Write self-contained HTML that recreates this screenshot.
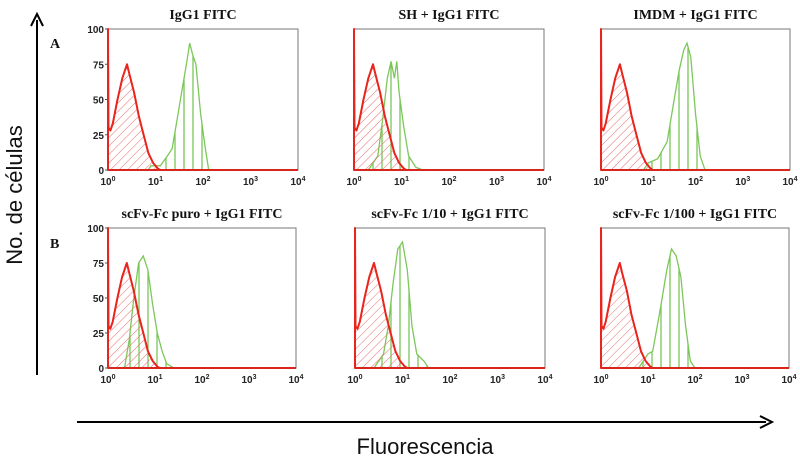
<!DOCTYPE html>
<html><head><meta charset="utf-8"><style>
body{margin:0;background:#fff;width:800px;height:463px;overflow:hidden}
svg{display:block}
.t{font-family:"Liberation Serif",serif;font-weight:bold;font-size:14px;fill:#111}
.k{font-family:"Liberation Sans",sans-serif;font-size:10px;fill:#222;font-weight:bold}
</style></head><body>
<svg id="fig" width="800" height="463" viewBox="0 0 800 463">
<defs>
<pattern id="hatchR" width="6" height="6" patternUnits="userSpaceOnUse" patternTransform="rotate(45)"><line x1="0" y1="0" x2="0" y2="6" stroke="#e87070" stroke-width="1"/></pattern>
<pattern id="hatchG" width="9" height="9" patternUnits="userSpaceOnUse"><line x1="4" y1="0" x2="4" y2="9" stroke="#6cc04a" stroke-width="1.2"/></pattern>
</defs>
<line x1="37" y1="375" x2="37" y2="20" stroke="#000" stroke-width="2"/>
<path d="M31 26 L37 14 L43 26" fill="none" stroke="#000" stroke-width="2"/>
<line x1="77" y1="422" x2="766" y2="422" stroke="#000" stroke-width="2"/>
<path d="M760 416 L772 422 L760 428" fill="none" stroke="#000" stroke-width="2"/>
<text x="22" y="195" transform="rotate(-90 22 195)" text-anchor="middle" font-family="Liberation Sans,sans-serif" font-size="22" fill="#111">No. de células</text>
<text x="425" y="454" text-anchor="middle" font-family="Liberation Sans,sans-serif" font-size="22" fill="#111">Fluorescencia</text>
<text x="50" y="48" class="t">A</text>
<text x="50" y="248" class="t">B</text>
<g id="panels"></g>
</svg>
<script>
const titles=["IgG1 FITC","SH + IgG1 FITC","IMDM + IgG1 FITC","scFv-Fc puro + IgG1 FITC","scFv-Fc 1/10 + IgG1 FITC","scFv-Fc 1/100 + IgG1 FITC"];
const yTicks=[0,25,50,75,100];
const xTicks=[0,1,2,3,4];
const redLogX=[0,0.01,0.05,0.1,0.2,0.3,0.4,0.45,0.55,0.65,0.75,0.85,0.95,1.05,1.1];
const redCount=[100,30,28,33,50,65,75,68,55,38,25,12,5,1,0];
const greenA1=[[0.85,0],[0.9,3],[1.1,3],[1.25,10],[1.35,15],[1.45,35],[1.55,55],[1.65,75],[1.72,90],[1.78,82],[1.85,75],[1.95,40],[2.05,15],[2.12,0]];
const greenA2=[[0.3,0],[0.5,10],[0.6,35],[0.7,65],[0.78,77],[0.85,65],[0.9,77],[0.95,55],[1.05,30],[1.15,10],[1.3,2],[1.45,0]];
const greenA3=[[0.9,0],[1.0,5],[1.2,8],[1.4,20],[1.55,50],[1.65,70],[1.75,85],[1.82,90],[1.9,80],[2.0,40],[2.1,10],[2.2,0]];
const greenB1=[[0.35,0],[0.45,20],[0.55,50],[0.65,75],[0.75,80],[0.85,70],[0.95,45],[1.05,25],[1.15,12],[1.25,3],[1.4,0]];
const greenB2=[[0.4,0],[0.6,10],[0.7,30],[0.8,60],[0.9,85],[1.0,90],[1.1,70],[1.2,30],[1.3,10],[1.45,5],[1.55,0]];
const greenB3=[[0.8,0],[1.0,10],[1.1,12],[1.25,40],[1.4,70],[1.5,85],[1.6,80],[1.7,65],[1.8,30],[1.9,5],[2.0,0]];
const greens=[greenA1,greenA2,greenA3,greenB1,greenB2,greenB3];
const boxes=[[108,29,298,170],[354,29,544,170],[601,29,790,170],[108,228,296,368],[355,228,545,368],[601,228,789,368]];
const NS="http://www.w3.org/2000/svg";
const root=document.getElementById('panels');
function mk(tag,attrs,parent){const e=document.createElementNS(NS,tag);for(const k in attrs)e.setAttribute(k,attrs[k]);parent.appendChild(e);return e;}
boxes.forEach((b,i)=>{
  const [x0,y0,x1,y1]=b;
  const sx=v=>x0+(x1-x0)*v/4, sy=v=>y1-(y1-y0)*v/100;
  const g=mk('g',{},root);
  
  
  mk('rect',{x:x0,y:y0,width:x1-x0,height:y1-y0,fill:'#fff',stroke:'#777','stroke-width':1},g);
  const tt=mk('text',{x:(x0+x1)/2,y:y0-10,'text-anchor':'middle',class:'t'},g);
  tt.textContent=titles[i];
  
  
  // green
  const gp=greens[i];
  let gd='M'+sx(gp[0][0])+' '+sy(0)+gp.map(p=>' L'+sx(p[0]).toFixed(1)+' '+sy(p[1]).toFixed(1)).join('')+' Z';
  const ga=mk('path',{d:gd,fill:'url(#hatchG)',stroke:'#7cc85a','stroke-width':1.3},g);
  
  
  // red
  let rd='M'+sx(0)+' '+sy(0)+redLogX.map((v,j)=>' L'+sx(v).toFixed(1)+' '+sy(redCount[j]).toFixed(1)).join('')+' Z';
  const ra=mk('path',{d:rd,fill:'url(#hatchR)',stroke:'#e8241c','stroke-width':2,'stroke-linejoin':'round'},g);
  
  
  mk('line',{x1:x0,y1:y1,x2:x1,y2:y1,stroke:'#d9261c','stroke-width':2},g);
  xTicks.forEach(v=>{
    const t=mk('text',{x:sx(v),y:y1+15,'text-anchor':'middle',class:'k'},g);
    t.innerHTML='10<tspan dy="-4" font-size="7">'+v+'</tspan>';
    
    
  });
  if(i%3===0){
    yTicks.forEach(v=>{
      mk('line',{x1:x0-3,y1:sy(v),x2:x0,y2:sy(v),stroke:'#555'},g);
      const t=mk('text',{x:x0-4,y:sy(v)+4,'text-anchor':'end',class:'k'},g);
      t.textContent=v;
      
      
    });
  }
});
</script>
</body></html>
